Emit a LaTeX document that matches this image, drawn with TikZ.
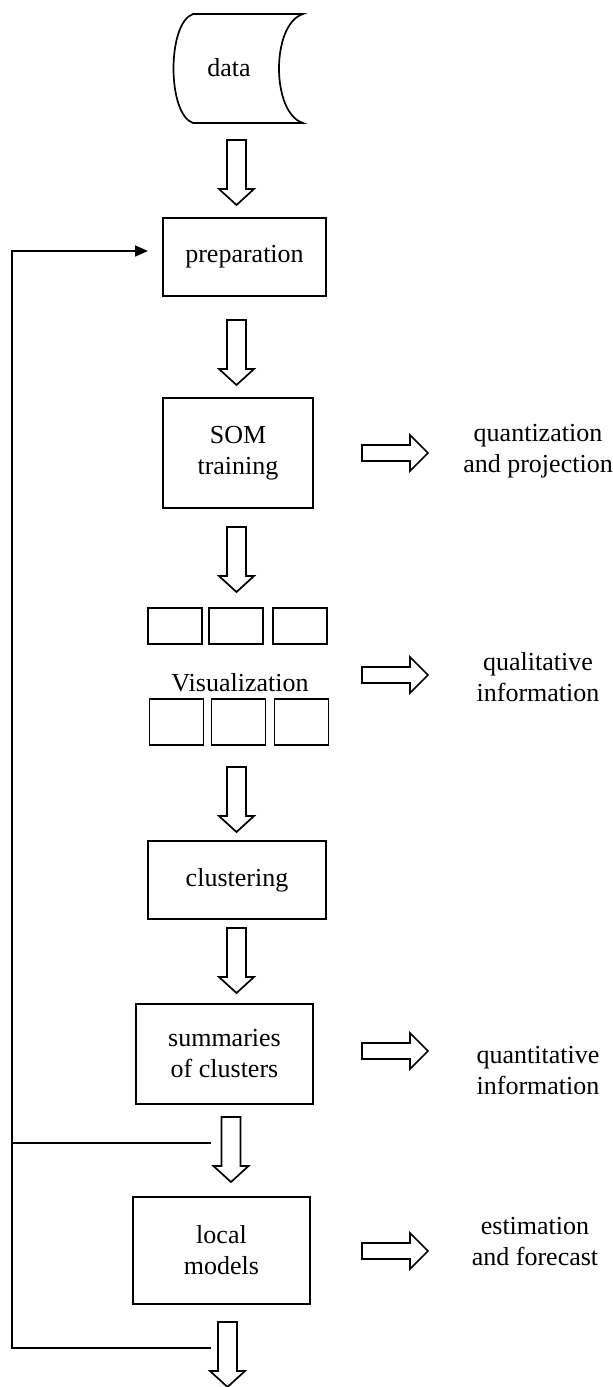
\documentclass[tikz,border=0pt]{standalone}
\usepackage{fontspec}
\setmainfont{Liberation Serif}
\usepackage{tikz}
\usetikzlibrary{arrows.meta}

\tikzset{
  box/.style={shape=rectangle,draw=black,line width=1.7pt,inner sep=0pt},
  cell/.style={shape=rectangle,draw=black,line width=1.7pt,inner sep=0pt,minimum width=54pt},
  downarr/.pic={\draw[line width=1.7pt] (-9.5,0) -- (9.5,0) -- (9.5,49) -- (17.5,49) -- (0,65) -- (-17.5,49) -- (-9.5,49) -- cycle;},
  rightarr/.pic={\draw[line width=1.7pt] (0,-8) -- (48,-8) -- (48,-18) -- (66,0) -- (48,18) -- (48,8) -- (0,8) -- cycle;}
}

\begin{document}
\begin{tikzpicture}[x=1pt,y=-1pt,every node/.style={align=center,font=\fontsize{26}{31}\selectfont}]
\useasboundingbox (0,0) rectangle (613,1387);

\node[] (data) at (229,68) {data};
\draw[line width=1.7pt] (193,14) -- (303,14) .. controls (271,24) and (271,113) .. (303,123) -- (193,123) .. controls (167,114) and (167,23) .. cycle;

\node[box,minimum width=163pt,minimum height=78pt] (prep) at (244.5,257) {preparation};
\node[box,minimum width=150pt,minimum height=110pt] (som) at (238,453) {SOM\\training};

\node[cell,minimum height=36pt] (v1) at (175,626) {};
\node[cell,minimum height=36pt] (v2) at (236,626) {};
\node[cell,minimum height=36pt] (v3) at (300,626) {};
\node[] (vis) at (240,683) {Visualization};
\node[cell,minimum height=46pt] (v4) at (176.5,722) {};
\node[cell,minimum height=46pt] (v5) at (238.5,722) {};
\node[cell,minimum height=46pt] (v6) at (301.5,722) {};

\node[box,minimum width=178pt,minimum height=78pt] (clus) at (237,880) {clustering};
\node[box,minimum width=177pt,minimum height=100pt] (summ) at (224.5,1054) {summaries\\of clusters};
\node[box,minimum width=177pt,minimum height=107pt] (local) at (221.5,1250.5) {local\\models};

\node[] (quant) at (538,451) {quantization\\and projection};
\node[] (qual) at (538,677) {qualitative\\information};
\node[] (qnt) at (538,1071) {quantitative\\information};
\node[] (est) at (535,1242) {estimation\\and forecast};

\pic at (236.5,140) {downarr};
\pic at (236.5,320) {downarr};
\pic at (236.5,527) {downarr};
\pic at (236.5,767) {downarr};
\pic at (236.5,928) {downarr};
\pic at (231,1117) {downarr};
\pic at (227.5,1322) {downarr};

\pic at (362,453) {rightarr};
\pic at (362,675) {rightarr};
\pic at (362,1051) {rightarr};
\pic at (362,1251) {rightarr};

\coordinate (f1) at (211,1348);
\coordinate (f2) at (12,251);
\coordinate (f3) at (148,251);
\coordinate (f4) at (211,1143);
\draw[line width=1.7pt,-{Triangle[length=13pt,width=11pt]}] (f1) -| (f2) -- (f3);
\draw[line width=1.7pt] (f4) -- (f4 -| f2);

\end{tikzpicture}
\end{document}
